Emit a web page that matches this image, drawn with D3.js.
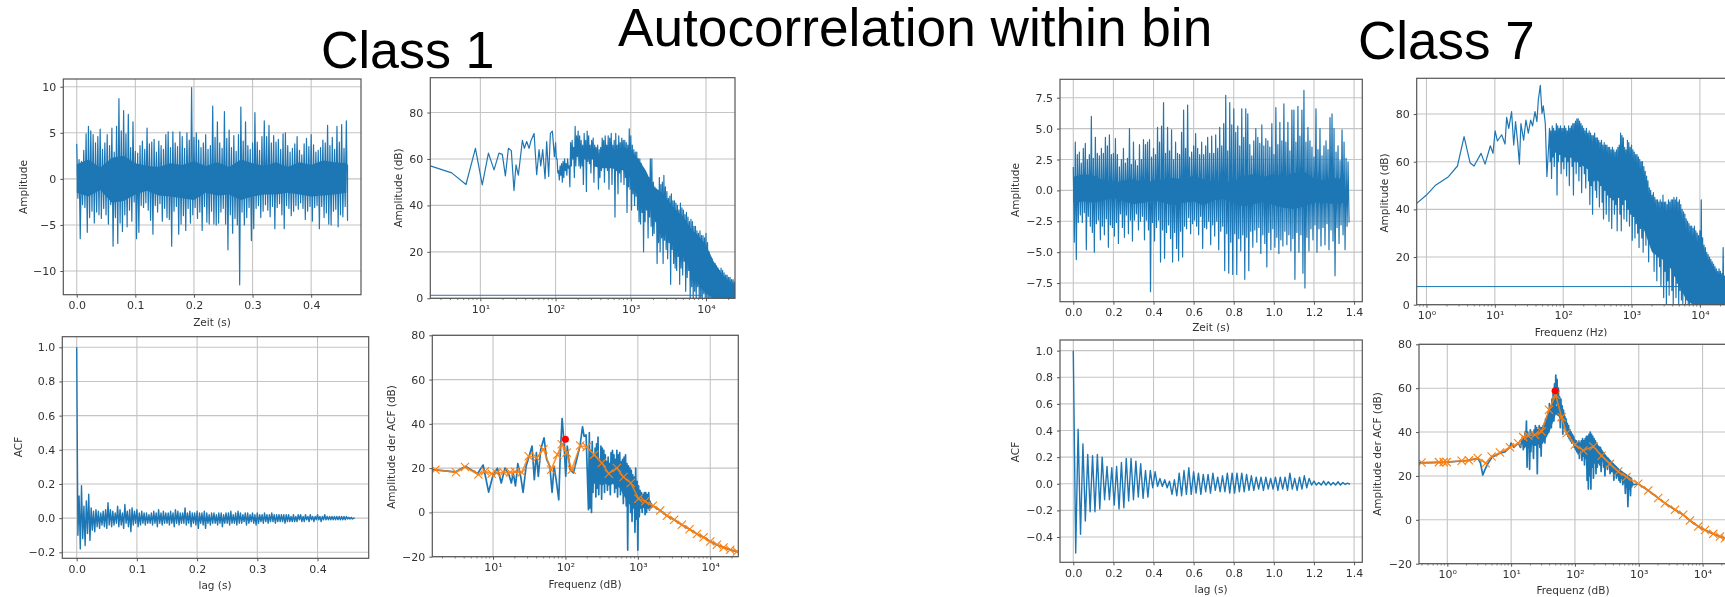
<!DOCTYPE html>
<html><head><meta charset="utf-8">
<script src="https://cdn.jsdelivr.net/npm/d3@7/dist/d3.min.js"></script>
<style>html,body{margin:0;padding:0;background:#fff;overflow:hidden}svg{display:block}</style>
</head><body><svg id="c" width="1725" height="597"></svg>
<script>
// ---------- headings
const mainTitle = "Autocorrelation within bin";
const classTitles = ["Class 1", "Class 7"];
const blue = "#1f77b4", orange = "#ff7f0e", red = "#ff0000";

// ---------- Class 1: time signal, upper and lower excursion per 4 ms
const sig1Step = 0.004;
const sig1Hi = [3.8,2.1,1.9,3.1,4.9,5.7,5.2,4.8,3.9,4.6,
5.4,3.2,3.9,4.8,3.6,5.5,2.9,5.7,8.7,5.2,
7.4,4.9,7.0,3.4,6.2,3.0,2.8,3.6,4.1,3.2,
5.5,3.8,4.0,4.3,2.9,4.1,3.6,3.2,4.8,5.1,
3.4,5.1,3.9,3.5,5.1,4.6,3.3,5.0,4.2,9.9,
4.5,5.0,4.2,3.4,3.9,4.8,3.2,3.6,7.9,4.5,
6.2,3.9,3.3,7.3,4.4,5.3,3.4,4.7,3.0,4.8,
7.8,4.1,6.2,3.6,3.2,3.9,7.2,4.0,3.1,4.6,
6.3,4.6,5.8,3.9,4.7,4.0,4.3,3.2,4.9,5.0,
3.6,2.9,3.3,3.8,4.6,3.1,2.6,3.8,4.4,3.5,
4.8,3.7,2.9,3.1,3.4,4.2,3.9,5.8,3.6,4.5,
3.2,5.7,4.0,5.9,3.3,6.3];
const sig1Lo = [-2.1,-6.5,-2.8,-3.1,-5.8,-4.2,-3.5,-4.8,-3.6,-3.9,
-4.3,-3.2,-3.9,-4.9,-2.8,-7.3,-4.2,-7.0,-4.8,-5.7,
-3.9,-5.2,-3.4,-4.6,-2.5,-6.5,-5.8,-2.9,-3.1,-2.6,
-3.4,-4.5,-6.0,-2.9,-3.6,-2.7,-4.6,-3.2,-4.2,-4.4,
-7.3,-3.5,-3.0,-6.0,-4.9,-4.0,-5.6,-3.2,-4.8,-3.9,
-3.1,-4.3,-3.6,-5.6,-3.0,-4.7,-4.9,-3.5,-4.9,-5.0,
-4.8,-3.6,-3.2,-4.9,-7.7,-3.9,-5.9,-4.3,-5.0,-11.5,
-3.6,-5.0,-4.2,-3.1,-6.7,-5.4,-3.2,-2.9,-4.2,-3.5,
-2.8,-3.4,-4.1,-3.0,-5.4,-3.1,-2.7,-3.9,-5.4,-2.9,
-3.2,-4.0,-3.5,-2.9,-3.3,-2.6,-3.2,-4.4,-3.5,-3.0,
-4.6,-3.1,-2.9,-5.4,-3.0,-4.2,-3.7,-4.9,-5.0,-3.5,
-3.3,-5.2,-3.9,-4.1,-3.0,-4.5];
// solid core of the trace, per 20 ms
const sig1CoreStep = 0.02;
const sig1CoreHi = [1.6,2.1,1.2,2.3,2.5,1.7,1.4,1.3,1.7,1.5,1.9,1.4,1.8,1.3,2.1,1.7,1.4,1.8,1.3,1.8,1.5,2.0,1.8,1.7];
const sig1CoreLo = [-1.5,-1.9,-1.2,-2.6,-2.4,-1.7,-1.3,-1.8,-1.9,-2.1,-2.3,-1.5,-1.8,-1.7,-2.3,-1.9,-1.7,-1.7,-1.5,-1.7,-1.9,-1.8,-1.7,-1.5];

// ---------- Class 1: spectrum
const spec1LowF = [2.16,4.16,6.44,8.6,10.6,12.8,15.2,17.7,19.6,21.5,23.6,25.8,28,29.8,32,36.2,38.5,41.3,44.4,47.2,51.8,56.1,60.3,63.5,67.5,72.5,76.2,81,85.3,90.7,96.4];
const spec1LowV = [57,54,49,64.6,48.8,62.5,55.3,62.5,62,52.7,64.6,63.6,46.4,57.5,53,68,64.6,67.5,64.6,68,71,53.2,64,57,64,51.5,67.5,52.5,71,72,61];
const spec1Start = 2.0, spec1LogStep = 0.02;
const spec1Hi = [67,60,55,57,58,59,60,58,60,57,
67,68,65,74,70,72,70,68,66,71,
68,72,70,66,68,69,66,65,66,64,
65,69,68,70,66,70,69,71,66,68,
71,66,70,67,69,68,68,67,66,73,
70,66,64,63,63,60,60,58,56,54,
52,51,52,60,60,50,48,47,46,52,
49,50,53,48,46,43,44,45,42,42,
41,40,38,41,39,38,36,37,35,33,
34,33,31,31,29,28,29,27,27,26,
28,24,20,18,17,15,15,14,13,12,
13,12,11,10,10,9,9,8,8,7];
const spec1Lo = [60,54,51,53,50,52,55,53,56,48,
57,60,52,57,61,57,56,57,49,60,
46,59,58,54,60,50,61,57,47,52,
55,60,50,58,55,47,57,49,56,35,
55,45,54,50,57,49,52,37,48,47,
38,45,40,44,38,33,32,37,20,33,
38,26,35,31,27,28,33,15,24,20,
26,15,25,21,17,24,6,21,15,13,
12,18,6,13,10,16,3,9,12,0,
5,0,3,0,5,0,0,0,2,0,
0,0,0,0,0,0,0,0,0,0,
0,0,0,0,0,0,0,0,0,0];
const spec1Floor = [[2.16,1.3],[9000,1.3]];
const spec1CoreStart = 2.5, spec1CoreStep = 0.1;
const spec1CoreHi = [62,62,63,64,65,64,60,55,48,46,42,38,35,30,27,23,16,11,7,4];
const spec1CoreLo = [57,56,56,56,55,52,46,42,36,30,26,22,18,12,6,2,0,0,0,0];

// ---------- Class 1: autocorrelation
const acf1Step = 0.004;
const acf1Hi = [1.0,.13,.19,.07,.10,.14,.06,.04,.05,.04,.03,.04,.05,.09,.05,.04,.03,.07,.05,.03,.08,.04,.05,.06,.04,.05,.03,.04,.03,.03,
.02,.03,.04,.03,.05,.03,.04,.03,.03,.04,.03,.05,.04,.03,.03,.06,.03,.04,.03,.03,
.04,.03,.03,.04,.03,.02,.03,.03,.02,.03,.03,.02,.03,.03,.04,.02,.03,.04,.03,.02,
.03,.03,.02,.03,.02,.03,.02,.02,.03,.02,.02,.03,.02,.02,.02,.02,.02,.02,.02,.01,
.02,.01,.02,.02,.01,.02,.01,.02,.01,.01,.02,.01,.01,.02,.01,.01,.01,.01,.01,.01,
.01,.01,.01,.005,.005,0];
const acf1Lo = [-.10,-.18,-.12,-.16,-.09,-.13,-.07,-.08,-.05,-.06,-.04,-.05,-.06,-.04,-.05,-.04,-.03,-.05,-.04,-.06,-.03,-.05,-.08,-.04,-.03,-.05,-.04,-.03,-.04,-.03,
-.03,-.04,-.03,-.05,-.03,-.04,-.03,-.03,-.04,-.03,-.05,-.03,-.04,-.03,-.03,-.04,-.03,-.05,-.03,-.04,
-.06,-.03,-.04,-.06,-.03,-.04,-.03,-.03,-.04,-.03,-.05,-.03,-.03,-.04,-.03,-.03,-.04,-.03,-.03,-.02,
-.04,-.03,-.02,-.03,-.04,-.03,-.02,-.03,-.02,-.03,-.02,-.02,-.03,-.02,-.02,-.02,-.03,-.02,-.02,-.02,
-.02,-.02,-.01,-.02,-.02,-.01,-.02,-.01,-.02,-.01,-.01,-.02,-.01,-.01,-.01,-.01,-.01,-.01,-.01,-.01,
-.01,-.01,-.005,-.005,-.005,0];

// ---------- Class 1: spectrum of the ACF
const acfSpec1LowF = [1.45,3,4.2,6.1,7.3,8.7,9.9,11.5,13,14.6,16.6,17.9,19,20.4,22,24.1,26,28.6,31,34.6,37.2,39.7,42.2,45.6,50.7,55,61,65.4,69.7,74.4,80.9,85,90,95.5,101,106,116,129,143,159,172,181,193,208];
const acfSpec1LowV = [19.3,18.3,20.8,17.5,21.4,9.2,16.3,20,13.3,20,17,13.3,17.8,12,22,16.3,9,20.8,24.6,30,14.8,27,16.3,28.4,33.7,23.9,20.8,9,20.8,14.8,5.7,26.9,42.4,31.4,16.3,30,19.3,17.8,23.9,30,38.7,34.4,35,1.2];
const acfSpec1Start = 2.33, acfSpec1LogStep = 0.02;
const acfSpec1Hi = [36,28,32,25,29,31,34,24,30,29,28,26,23,25,22,27,28,26,24,28,26,27,23,24,25,26,22,21,20,19,17,16,20,14,12,10,9,8,9,9,8,9,5];
const acfSpec1Lo = [2,0,9,14,7,11,8,13,6,15,9,17,10,15,8,13,14,9,11,7,12,8,14,4,10,3,-17,5,0,-4,2,-9,-3,-17,-2,2,0,3,-1,0,2,1,2];
const acfSpec1CoreStart = 2.35, acfSpec1CoreStep = 0.05;
const acfSpec1CoreHi = [24,22,20,18,18,20,22,20,18,17,16,14,12,6,6,6,5,4];
const acfSpec1CoreLo = [12,13,14,12,13,12,13,12,11,8,5,3,2,2,2,2,2,2];
const smooth1F = [1.6,3.08,4.1,6.27,7.74,9.6,11.2,13.9,17.2,20.1,24.9,31.1,40.2,49.7,63.4,77.5,88.9,104,122,160,197,249,318,397,513,634,800,1021,1262,1611,2037,2518,3177,4055,5176,6546,8091,10000,12360,15280,18880,23390];
const smooth1V = [19.3,18.1,20.5,17.1,18.6,17.5,17.8,18.1,18.1,18.4,18,25.4,24.7,28.5,19.3,26.1,30.8,27,19.3,30.2,29.6,26.1,22.3,17.5,20.1,16,13.3,6.2,5,3,.9,-1.5,-3.3,-5.6,-7.6,-9.7,-11.2,-13.1,-14.6,-15.8,-16.9,-17.7];
const peak1 = [100, 33];

// ---------- Class 7: time signal, upper and lower excursion per 10 ms
const sig7Step = 0.01;
const sig7Hi = [1.9,3.9,2.9,3.1,2.2,3.4,3.8,2.5,2.9,6.0,
2.6,4.3,3.0,2.8,3.4,3.0,4.3,3.6,4.5,2.9,
3.0,4.2,2.9,1.9,2.5,3.4,2.2,2.6,5.0,2.1,
3.9,2.4,2.0,3.7,2.5,4.1,3.7,3.9,4.1,2.7,
3.4,2.9,5.1,3.9,5.2,7.1,3.0,5.1,3.2,4.9,
2.5,3.9,3.0,2.9,4.7,6.5,3.4,6.9,2.7,3.1,
3.6,4.6,3.4,2.9,3.9,2.9,3.6,4.3,3.0,4.4,
3.0,4.5,3.4,5.1,3.6,5.4,7.7,3.2,7.1,5.3,
6.6,4.7,5.2,3.6,6.6,4.3,6.6,6.2,3.7,2.8,
4.0,5.0,4.3,3.8,5.3,3.6,4.2,4.0,3.5,5.4,
2.9,6.7,3.7,5.5,4.0,7.0,3.9,5.5,3.2,6.5,
6.5,3.9,6.8,4.4,6.5,8.1,3.9,5.1,4.0,3.5,
2.7,6.6,3.3,5.0,2.8,3.6,4.0,3.3,5.9,6.2,
5.0,3.1,3.6,2.4,4.9,3.9,2.6,2.3];
const sig7Lo = [-4.2,-5.6,-2.6,-2.0,-2.6,-1.8,-4.8,-2.1,-2.9,-3.4,
-5.0,-2.7,-2.4,-4.0,-2.9,-3.6,-2.3,-4.6,-2.8,-3.0,
-3.7,-2.6,-4.3,-1.9,-3.0,-3.8,-2.0,-3.5,-2.4,-4.1,
-2.4,-1.9,-3.2,-2.5,-2.1,-4.0,-2.4,-3.2,-8.2,-2.6,
-4.1,-3.0,-2.4,-5.8,-3.2,-5.5,-3.4,-2.8,-3.9,-5.8,
-3.4,-4.7,-5.7,-3.3,-5.4,-2.9,-3.1,-2.2,-3.5,-2.7,
-2.4,-2.9,-3.6,-2.1,-4.7,-3.0,-3.1,-2.5,-4.4,-2.8,
-3.7,-2.5,-4.8,-3.3,-2.9,-6.5,-3.5,-6.7,-4.2,-6.8,
-3.5,-6.8,-3.9,-4.9,-3.6,-7.2,-3.8,-6.5,-3.3,-4.6,
-3.2,-4.2,-3.0,-5.1,-3.6,-4.3,-6.2,-3.4,-4.8,-3.1,
-4.6,-3.8,-5.1,-4.0,-4.5,-3.3,-4.4,-3.6,-4.9,-3.9,
-7.2,-3.4,-5.0,-3.6,-6.7,-7.9,-3.8,-4.9,-3.1,-4.0,
-2.8,-5.0,-3.1,-4.5,-3.0,-4.4,-2.7,-4.8,-3.2,-4.1,
-6.9,-3.0,-4.3,-2.8,-3.6,-4.8,-2.9,-2.6];
const sig7CoreStep = 0.05;
const sig7CoreHi = [1.1,1.3,1.2,.8,.6,.8,.9,.6,.8,.9,1.0,.9,1.2,.9,.7,.6,.7,1.2,1.3,1.1,1.3,1.1,1.4,1.5,1.0,.8,1.0,.9];
const sig7CoreLo = [-1.0,-.9,-1.0,-.8,-.6,-.9,-1.1,-1.0,-.8,-1.0,-1.2,-1.0,-.9,-1.2,-.8,-.7,-1.0,-1.3,-1.1,-.9,-1.2,-1.4,-1.5,-1.3,-1.0,-1.0,-1.1,-1.0];

// ---------- Class 7: spectrum
const spec7LowF = [.72,1,1.34,2.1,2.84,3.55,4.34,4.97,6.29,7.2,8.6,9.4,10.1,10.9,12.6,14.1,14.9,16,17.6,18.9,20.1,21.6,22.9,24.1,26.4,28.5,30.9,33.4,35.7,38.7,41.3,43.3,46.3,49,51.2,54.8,57.8,62];
const spec7LowV = [42.5,46,50,53.7,58.2,70.5,59.6,58.2,63.5,59,66.7,63.5,72.9,68.7,71.3,67.4,78.6,74,81,67,76.8,68,59,76,69,77.5,72,77.5,75,81,76.8,86,92,80.3,83.4,76,53.7,69];
const spec7Start = 1.8, spec7LogStep = 0.02;
const spec7Hi = [74,73,75,74,73,76,75,74,75,74,
74,75,74,73,75,74,75,76,76,77,
78,78,77,76,75,74,73,74,72,73,
72,71,71,72,70,70,69,68,69,67,
68,67,67,66,66,65,66,65,64,65,
66,67,72,71,70,66,65,69,68,66,
67,65,64,63,63,62,61,60,60,58,
56,54,52,49,48,46,47,45,44,44,
43,44,43,46,43,43,42,44,43,44,
44,45,44,45,43,44,42,40,39,38,
36,35,34,33,33,32,33,31,30,29,
31,44,28,25,24,22,21,20,19,18,
17,16,15,14,15,14,13,24,12,12,11];
const spec7Lo = [60,53,62,58,64,46,60,63,55,60,
57,62,54,60,50,62,58,46,60,55,
60,52,58,47,60,55,49,58,52,42,
50,38,52,48,45,53,41,50,43,36,
48,38,46,35,45,32,44,38,42,31,
45,38,31,42,36,44,35,40,33,38,
27,37,28,34,30,24,32,28,22,33,
25,32,18,27,24,30,14,26,10,20,
16,8,22,3,14,0,10,4,16,6,
0,12,3,9,0,6,2,0,5,0,
3,0,0,2,0,0,1,0,0,0,
0,0,0,0,0,0,0,0,0,0,
0,0,0,0,0,0,0,0,0,0,0];
const spec7Floor = [[.72,7.6],[6500,7.6]];
const spec7CoreStart = 2.0, spec7CoreStep = 0.1;
const spec7CoreHi = [68,70,72,71,68,65,62,61,61,61,58,52,44,40,40,40,34,30,25,18,14,10,8,6,5];
const spec7CoreLo = [62,62,60,58,56,52,50,50,50,48,44,38,30,22,20,18,14,8,2,0,0,0,0,0,0];

// ---------- Class 7: autocorrelation, one swing per 24 ms
const acf7Step = 0.024;
const acf7Hi = [1.0,.41,.30,.22,.21,.22,.20,.13,.12,.13,.16,.19,.19,.17,.15,.10,.10,.09,.04,.03,.02,.03,.08,.10,.12,.09,.08,.07,.07,.08,.05,.06,.08,.08,.08,.08,.07,.06,.05,.05,.05,.04,.05,.05,.05,.08,.04,.05,.06,.04,.02,.01,.02,.015,.01,.015,.01,.005];
const acf7Lo = [-.52,-.38,-.28,-.21,-.21,-.19,-.12,-.12,-.16,-.19,-.18,-.13,-.12,-.10,-.11,-.10,-.03,-.02,-.02,-.03,-.08,-.09,-.09,-.08,-.08,-.07,-.08,-.06,-.07,-.05,-.06,-.06,-.07,-.07,-.06,-.06,-.05,-.05,-.04,-.05,-.04,-.04,-.05,-.04,-.05,-.04,-.05,-.04,-.03,-.01,-.01,-.01,-.01,-.01,-.01,-.01,-.005,-.005];

// ---------- Class 7: spectrum of the ACF
const acfSpec7LowF = [.36,.6,1,1.5,2,3,3.3,3.6,3.9,4.3,5,6.8,8,9.5,10,11,13,14];
const acfSpec7LowV = [26,26.1,26.3,26.7,27,28,26,20.4,23,25.5,28.5,30.5,31,33,35,33,35,33];
const acfSpec7Start = 1.18, acfSpec7LogStep = 0.02;
const acfSpec7Hi = [38,37,40,45,40,38,41,40,39,41,
43,42,41,43,42,42,43,44,46,47,
49,53,52,55,59,62,66,64,60,56,
55,52,50,47,46,44,43,41,40,39,
38,36,36,35,36,35,36,37,36,37,
38,38,39,40,39,38,37,36,35,33,
33,33,31,30,30,29,28,28,26,25,
26,25,24,24,23,23,22,22,21,20,
20,19,18,18,18,18,17];
const acfSpec7Lo = [32,33,36,24,33,23,31,35,28,34,
34,21,36,33,29,35,37,35,38,40,
40,44,42,46,45,50,53,52,50,42,
46,39,44,41,39,38,37,36,35,36,
33,32,31,30,28,32,27,29,25,28,
18,14,20,14,24,19,26,21,24,26,
25,22,27,24,20,25,23,25,21,22,
22,18,21,19,20,18,17,19,16,17,
12,15,6,14,11,15,16];
const acfSpec7CoreStart = 1.2, acfSpec7CoreStep = 0.1;
const acfSpec7CoreHi = [35,38,38,39,44,52,52,42,37,33,34,36,33,29,26,23,21,19];
const acfSpec7CoreLo = [33,34,34,35,40,48,46,38,33,31,28,27,28,25,23,20,17,16];
const smooth7F = [.396,.74,.877,.976,1.68,2.18,2.99,3.99,4.95,6.69,9.6,12.9,15.5,18.6,23.6,30,39.2,49.8,61.8,74,100,135,194,262,353,477,644,982,1409,2018,2570,3690,4977,6340,8550,10890,14690,18700,22390];
const smooth7V = [26.1,26.3,26.3,26.3,26.9,27.1,28.2,25.8,28.9,30.7,33.1,34.9,37.7,38.3,38.8,40.3,50.2,57,46.8,39.5,34.2,31.6,33.4,29.2,25.5,22,19.5,16.4,13.4,9.9,7.6,4.6,2.3,-.3,-3,-4.6,-6.4,-7.6,-8.4];
const peak7 = [49, 58.8];

// ---------- tick labels
const ticksSig1 = [-10,-5,0,5,10];
const ticksSig7 = [-7.5,-5,-2.5,0,2.5,5,7.5];
const ticksDb = [0,20,40,60,80];
const ticksDbAcf = [-20,0,20,40,60,80];
const ticksAcf1 = [-.2,0,.2,.4,.6,.8,1];
const ticksAcf7 = [-.4,-.2,0,.2,.4,.6,.8,1];
const ticksLag1 = [0,.1,.2,.3,.4];
const ticksLag7 = [0,.2,.4,.6,.8,1,1.2,1.4];
const decades1 = [10,100,1000,10000];
const decades7 = [1,10,100,1000,10000];

// ---------- helpers that turn the read values into drawable points
const zip = (xs, ys) => xs.map((x,i)=>[x,ys[i]]);
function swingLinear(step, hi, lo){
  const out=[]; hi.forEach((h,i)=>{ out.push([i*step,h]); out.push([(i+.5)*step,lo[i]]); }); return out;
}
function swingLog(start, step, hi, lo){
  const out=[]; hi.forEach((h,i)=>{ out.push([Math.pow(10,start+i*step),h]); out.push([Math.pow(10,start+(i+.5)*step),lo[i]]); }); return out;
}
const bandLinear = (step, hi, lo) => hi.map((h,i)=>[i*step,h,lo[i]]);
const bandLog = (start, step, hi, lo) => hi.map((h,i)=>[Math.pow(10,start+i*step),h,lo[i]]);
const sup = {0:"\u2070",1:"\u00b9",2:"\u00b2",3:"\u00b3",4:"\u2074"};
const logLabel = d => "10"+sup[Math.round(Math.log10(d))];

const tail1 = zip(smooth1F,smooth1V).filter(d=>d[0]>1500);
const tail7 = zip(smooth7F,smooth7V).filter(d=>d[0]>850);

const panels = [
 {box:[63.3,361,79,294.7], xd:[-0.0229,0.485], yd:[-12.57,10.84], xt:ticksLag1, yt:ticksSig1, fx:".1f", fy:"d",
  band:bandLinear(sig1CoreStep,sig1CoreHi,sig1CoreLo),
  lines:[{pts:swingLinear(sig1Step,sig1Hi,sig1Lo).concat([[.462,1.5],[.462,-.5]]),w:1.2}],
  xl:"Zeit (s)", xlp:[212,326], yl:"Amplitude", ylp:[22.7,187]},
 {box:[430.3,735,77.7,298.3], log:1, xd:[2.16,24300], yd:[0,95], xt:decades1, yt:ticksDb, fy:"d",
  band:bandLog(spec1CoreStart,spec1CoreStep,spec1CoreHi,spec1CoreLo),
  lines:[{pts:spec1Floor,w:1},{pts:zip(spec1LowF,spec1LowV).concat(swingLog(spec1Start,spec1LogStep,spec1Hi,spec1Lo)),w:1.2}],
  yl:"Amplitude (dB)", ylp:[398,188]},
 {box:[62.3,368.7,336.7,558.3], xd:[-0.0239,0.485], yd:[-.235,1.062], xt:ticksLag1, yt:ticksAcf1, fx:".1f", fy:".1f",
  lines:[{pts:swingLinear(acf1Step,acf1Hi,acf1Lo),w:1.4}],
  xl:"lag (s)", xlp:[215,589], yl:"ACF", ylp:[18,447]},
 {box:[432.3,738.3,335.3,556.7], log:1, xd:[1.45,24400], yd:[-20,80], xt:decades1, yt:ticksDbAcf, fy:"d",
  band:bandLog(acfSpec1CoreStart,acfSpec1CoreStep,acfSpec1CoreHi,acfSpec1CoreLo),
  lines:[{pts:zip(acfSpec1LowF,acfSpec1LowV).concat(swingLog(acfSpec1Start,acfSpec1LogStep,acfSpec1Hi,acfSpec1Lo)).concat(tail1),w:1.7}],
  smooth:zip(smooth1F,smooth1V), peak:peak1,
  xl:"Frequenz (dB)", xlp:[585,588], yl:"Amplitude der ACF (dB)", ylp:[391,447]},
 {box:[1060,1362.3,79.3,301.7], xd:[-0.0663,1.441], yd:[-9.01,8.99], xt:ticksLag7, yt:ticksSig7, fx:".1f", fy:".1f",
  band:bandLinear(sig7CoreStep,sig7CoreHi,sig7CoreLo),
  lines:[{pts:swingLinear(sig7Step,sig7Hi,sig7Lo),w:1.2}],
  xl:"Zeit (s)", xlp:[1211,331], xlClip:332, yl:"Amplitude", ylp:[1015,190]},
 {box:[1416.7,1760,78.3,304.7], log:1, xd:[.72,75700], yd:[0,95], xt:decades7, yt:ticksDb, fy:"d",
  band:bandLog(spec7CoreStart,spec7CoreStep,spec7CoreHi,spec7CoreLo),
  lines:[{pts:spec7Floor,w:1},{pts:zip(spec7LowF,spec7LowV).concat(swingLog(spec7Start,spec7LogStep,spec7Hi,spec7Lo)),w:1.2}],
  xl:"Frequenz (Hz)", xlp:[1571,336], xlClip:336.5, yl:"Amplitude (dB)", ylp:[1384,193]},
 {box:[1060,1362.3,340,562.3], xd:[-0.0663,1.441], yd:[-.59,1.08], xt:ticksLag7, yt:ticksAcf7, fx:".1f", fy:".1f",
  lines:[{pts:swingLinear(acf7Step,acf7Hi,acf7Lo),w:1.4}],
  xl:"lag (s)", xlp:[1211,593], yl:"ACF", ylp:[1015,452]},
 {box:[1419,1760,344.3,563.7], log:1, xd:[.36,79400], yd:[-20,80], xt:decades7, yt:ticksDbAcf, fy:"d",
  band:bandLog(acfSpec7CoreStart,acfSpec7CoreStep,acfSpec7CoreHi,acfSpec7CoreLo),
  lines:[{pts:zip(acfSpec7LowF,acfSpec7LowV).concat(swingLog(acfSpec7Start,acfSpec7LogStep,acfSpec7Hi,acfSpec7Lo)).concat(tail7),w:1.7}],
  smooth:zip(smooth7F,smooth7V), peak:peak7,
  xl:"Frequenz (dB)", xlp:[1573,594], yl:"Amplitude der ACF (dB)", ylp:[1377,454]}
];

const svg = d3.select("#c");
const defs = svg.append("defs");
defs.append("filter").attr("id","soft").attr("x","-5%").attr("y","-5%").attr("width","110%").attr("height","110%")
  .append("feGaussianBlur").attr("stdDeviation",0.45);

const labelFont = "DejaVu Sans";
panels.forEach((p,idx)=>{
  const [l,r,t,b]=p.box;
  const x = (p.log?d3.scaleLog():d3.scaleLinear()).domain(p.xd).range([l,r]);
  const y = d3.scaleLinear().domain(p.yd).range([b,t]);
  const g = svg.append("g").attr("filter","url(#soft)");
  const cid="clip"+idx;
  defs.append("clipPath").attr("id",cid).append("rect").attr("x",l).attr("y",t).attr("width",r-l).attr("height",b-t);

  // grid
  g.append("g").selectAll("line").data(p.xt).join("line")
    .attr("x1",d=>x(d)).attr("x2",d=>x(d)).attr("y1",t).attr("y2",b).attr("stroke","#c4c4c4").attr("stroke-width",1.1);
  g.append("g").selectAll("line").data(p.yt).join("line")
    .attr("y1",d=>y(d)).attr("y2",d=>y(d)).attr("x1",l).attr("x2",r).attr("stroke","#c4c4c4").attr("stroke-width",1.1);

  // marks
  const gen = d3.line().x(d=>x(d[0])).y(d=>y(d[1]));
  const m = g.append("g").attr("clip-path",`url(#${cid})`);
  if(p.band){
    const area=d3.area().x(d=>x(d[0])).y0(d=>y(d[2])).y1(d=>y(d[1]));
    m.append("path").attr("d",area(p.band)).attr("fill",blue);
  }
  p.lines.forEach(s=>m.append("path").attr("d",gen(s.pts)).attr("fill","none").attr("stroke",blue).attr("stroke-width",s.w).attr("stroke-linejoin","round"));
  if(p.smooth){
    m.append("path").attr("d",gen(p.smooth)).attr("fill","none").attr("stroke",orange).attr("stroke-width",1.6).attr("stroke-opacity",.85);
    const cross=d3.symbol().type(d3.symbolX).size(46);
    m.selectAll("path.x").data(p.smooth).join("path").attr("class","x")
      .attr("d",cross).attr("transform",d=>`translate(${x(d[0])},${y(d[1])})`)
      .attr("fill","none").attr("stroke",orange).attr("stroke-width",1.1);
    m.append("circle").attr("cx",x(p.peak[0])).attr("cy",y(p.peak[1])).attr("r",3.5).attr("fill",red);
  }

  // axes
  const xa = d3.axisBottom(x).tickSize(3).tickPadding(4);
  if(p.log){
    xa.tickValues(p.xt).tickFormat(logLabel);
  } else {
    xa.tickValues(p.xt).tickFormat(d3.format(p.fx));
  }
  const ya = d3.axisLeft(y).tickValues(p.yt).tickFormat(d3.format(p.fy)).tickSize(3).tickPadding(4);
  const gx=g.append("g").attr("transform",`translate(0,${b})`).call(xa);
  const gy=g.append("g").attr("transform",`translate(${l},0)`).call(ya);
  [gx,gy].forEach(a=>{
    a.select(".domain").remove();
    a.selectAll("line").attr("stroke","#555");
    a.selectAll("text").attr("fill","#333").attr("font-family",labelFont).attr("font-size",11);
  });
  if(p.log){
    const minor=[];
    const lo=Math.floor(Math.log10(p.xd[0])),hi=Math.ceil(Math.log10(p.xd[1]));
    for(let e=lo;e<hi;e++)for(let k=2;k<10;k++){const f=k*Math.pow(10,e);if(f>p.xd[0]&&f<p.xd[1])minor.push(f);}
    g.append("g").selectAll("line").data(minor).join("line")
      .attr("x1",d=>x(d)).attr("x2",d=>x(d)).attr("y1",b).attr("y2",b+1.8).attr("stroke","#666").attr("stroke-width",.8);
  }

  // frame
  g.append("rect").attr("x",l).attr("y",t).attr("width",r-l).attr("height",b-t).attr("fill","none").attr("stroke","#555").attr("stroke-width",1.2);

  // axis titles
  if(p.xl){
    const tx=g.append("text").attr("x",p.xlp[0]).attr("y",p.xlp[1]).attr("text-anchor","middle")
      .attr("font-family",labelFont).attr("font-size",10.5).attr("fill","#333").text(p.xl);
    if(p.xlClip){
      defs.append("clipPath").attr("id","xl"+idx).append("rect").attr("x",p.xlp[0]-80).attr("y",p.xlClip-30).attr("width",160).attr("height",30);
      tx.attr("clip-path",`url(#xl${idx})`);
    }
  }
  g.append("text").attr("transform",`translate(${p.ylp[0]},${p.ylp[1]}) rotate(-90)`).attr("text-anchor","middle")
    .attr("dominant-baseline","central").attr("font-family",labelFont).attr("font-size",10.5).attr("fill","#333").text(p.yl);
});

// headings
const head = svg.append("g").attr("font-family","Liberation Sans").attr("fill","#000");
head.append("text").attr("x",618).attr("y",46).attr("font-size",53.2).text(mainTitle);
head.append("text").attr("x",321).attr("y",68).attr("font-size",52).text(classTitles[0]);
head.append("text").attr("x",1358).attr("y",59).attr("font-size",53).text(classTitles[1]);
</script>
</body></html>
